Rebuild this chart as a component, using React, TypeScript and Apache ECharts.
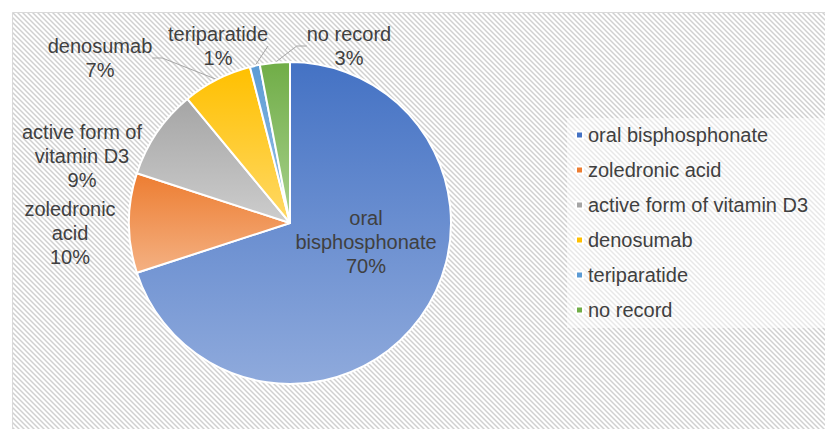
import React, { useEffect, useRef } from 'react';
import * as echarts from 'echarts';

const categories = [
  'oral bisphosphonate',
  'zoledronic acid',
  'active form of vitamin D3',
  'denosumab',
  'teriparatide',
  'no record',
];
const values = [70, 10, 9, 7, 1, 3];
const labelNames = [
  'oral\nbisphosphonate',
  'zoledronic\nacid',
  'active form of\nvitamin D3',
  'denosumab',
  'teriparatide',
  'no record',
];

const baseColors = ['#4472C4', '#ED7D31', '#A5A5A5', '#FFC000', '#5B9BD5', '#70AD47'];
const lightColors = ['#8FAADC', '#F4B183', '#CDCDCD', '#FFD966', '#9DC3E6', '#A9D18E'];
const labelCenters: number[][] = [
  [366, 242],
  [70, 233],
  [82, 156],
  [100, 58],
  [218, 46],
  [349, 46],
];
const showLeader = [false, false, false, true, true, true];

const FONT = '"Liberation Sans", Arial, sans-serif';

function makeHatch(): HTMLCanvasElement {
  const n = 5;
  const c = document.createElement('canvas');
  c.width = n;
  c.height = n;
  const ctx = c.getContext('2d')!;
  const img = ctx.createImageData(n, n);
  for (let y = 0; y < n; y++) {
    for (let x = 0; x < n; x++) {
      const d = (((x - y) % n) + n) % n;
      const v = d === 0 ? 0xd0 : d === 1 || d === n - 1 ? 0xe6 : 0xff;
      const i = (y * n + x) * 4;
      img.data[i] = v;
      img.data[i + 1] = v;
      img.data[i + 2] = v;
      img.data[i + 3] = 255;
    }
  }
  ctx.putImageData(img, 0, 0);
  return c;
}

export default function App() {
  const ref = useRef<HTMLDivElement>(null);

  useEffect(() => {
    document.body.style.margin = '0';
    if (!ref.current) return;
    const chart = echarts.init(ref.current, null, { renderer: 'svg' });
    const hatch = makeHatch();

    const data = categories.map((name, i) => ({
      name,
      value: values[i],
      itemStyle: {
        color: {
          type: 'linear',
          x: 0,
          y: 0,
          x2: 0,
          y2: 1,
          colorStops: [
            { offset: 0, color: baseColors[i] },
            { offset: 1, color: lightColors[i] },
          ],
        },
      },
      label: i === 0 ? { position: 'inside' } : { position: 'outside' },
      labelLine: { show: showLeader[i] },
    }));

    chart.setOption({
      animation: false,
      backgroundColor: '#ffffff',
      graphic: [
        {
          type: 'rect',
          z: 0,
          silent: true,
          shape: { x: 12.5, y: 12.5, width: 830, height: 430 },
          style: {
            fill: { image: hatch, repeat: 'repeat', imageWidth: 5, imageHeight: 5 } as any,
            stroke: '#d9d9d9',
            lineWidth: 1,
          },
        },
        {
          type: 'rect',
          z: 1,
          silent: true,
          shape: { x: 567, y: 118, width: 260, height: 210 },
          style: { fill: 'rgba(255,255,255,0.5)' },
        },
      ],
      legend: {
        orient: 'vertical',
        left: 570,
        top: 120,
        icon: 'rect',
        itemWidth: 7,
        itemHeight: 7,
        itemGap: 15,
        selectedMode: false,
        textStyle: { fontFamily: FONT, fontSize: 20, color: '#404040', lineHeight: 20 },
        data: categories.map((c, i) => ({ name: c, itemStyle: { color: baseColors[i] } })),
      },
      series: [
        {
          type: 'pie',
          center: [290, 223],
          radius: 161,
          startAngle: 90,
          clockwise: true,
          avoidLabelOverlap: false,
          silent: true,
          itemStyle: { borderColor: '#ffffff', borderWidth: 2 },
          label: {
            show: true,
            formatter: (p: any) => `${labelNames[p.dataIndex]}\n${Math.round(p.percent)}%`,
            fontFamily: FONT,
            fontSize: 20,
            lineHeight: 24,
            color: '#404040',
            align: 'center',
          },
          labelLine: {
            length: 10,
            length2: 10,
            lineStyle: { color: '#a6a6a6', width: 1 },
          },
          labelLayout: (p: any) => ({
            x: labelCenters[p.dataIndex][0],
            y: labelCenters[p.dataIndex][1],
            align: 'center',
            verticalAlign: 'middle',
          }),
          data,
        },
      ],
    });

    return () => chart.dispose();
  }, []);

  return <div ref={ref} style={{ width: 825, height: 429 }} />;
}
